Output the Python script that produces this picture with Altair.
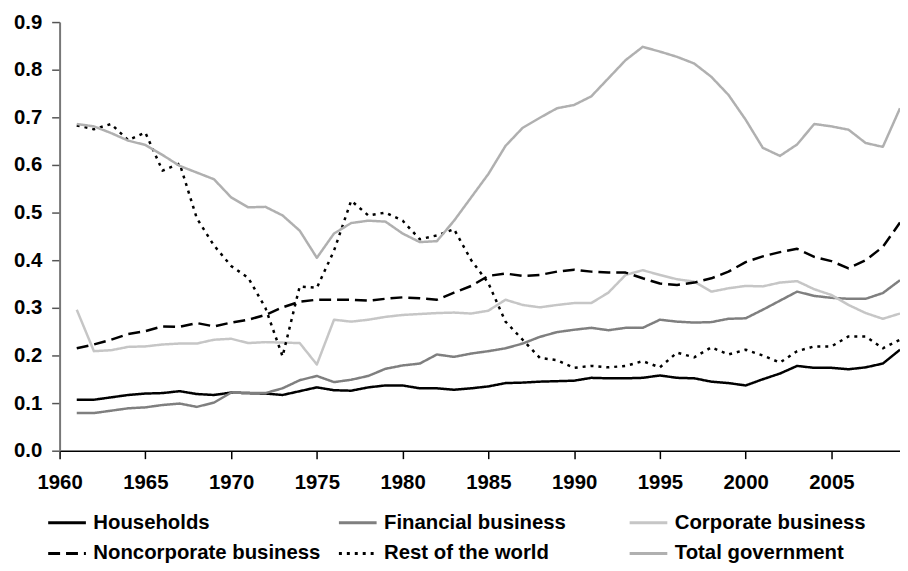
import altair as alt
import pandas as pd

years = list(range(1961, 2010))

households = [0.107, 0.107, 0.112, 0.117, 0.120, 0.121, 0.125, 0.119, 0.117, 0.122,
              0.121, 0.120, 0.117, 0.125, 0.133, 0.127, 0.126, 0.133, 0.137, 0.137,
              0.131, 0.131, 0.128, 0.131, 0.135, 0.142, 0.143, 0.145, 0.146, 0.147,
              0.153, 0.152, 0.152, 0.153, 0.158, 0.153, 0.152, 0.145, 0.142, 0.137,
              0.150, 0.162, 0.178, 0.174, 0.174, 0.171, 0.175, 0.183, 0.212]

financial = [0.079, 0.079, 0.084, 0.089, 0.091, 0.096, 0.099, 0.092, 0.101, 0.122,
             0.121, 0.121, 0.131, 0.148, 0.157, 0.144, 0.149, 0.157, 0.172, 0.179,
             0.183, 0.202, 0.197, 0.204, 0.209, 0.215, 0.225, 0.239, 0.249, 0.254,
             0.258, 0.253, 0.258, 0.258, 0.275, 0.271, 0.269, 0.270, 0.277, 0.278,
             0.296, 0.315, 0.334, 0.325, 0.321, 0.319, 0.319, 0.331, 0.358]

corporate = [0.296, 0.209, 0.211, 0.218, 0.219, 0.223, 0.225, 0.225, 0.233, 0.235,
             0.226, 0.228, 0.227, 0.226, 0.181, 0.275, 0.271, 0.275, 0.281, 0.285,
             0.287, 0.289, 0.290, 0.288, 0.294, 0.317, 0.306, 0.301, 0.306, 0.310,
             0.310, 0.332, 0.369, 0.379, 0.369, 0.360, 0.355, 0.334, 0.341, 0.346,
             0.345, 0.353, 0.356, 0.339, 0.327, 0.306, 0.289, 0.277, 0.288]

noncorporate = [0.215, 0.223, 0.233, 0.245, 0.251, 0.261, 0.260, 0.268, 0.261, 0.269,
                0.275, 0.285, 0.301, 0.313, 0.317, 0.317, 0.317, 0.315, 0.319, 0.322,
                0.320, 0.317, 0.332, 0.346, 0.367, 0.372, 0.367, 0.369, 0.376, 0.380,
                0.376, 0.374, 0.374, 0.362, 0.351, 0.348, 0.353, 0.362, 0.376, 0.396,
                0.408, 0.417, 0.424, 0.407, 0.398, 0.383, 0.400, 0.428, 0.479]

rest_of_world = [0.683, 0.675, 0.686, 0.652, 0.668, 0.588, 0.603, 0.488, 0.431, 0.388,
                 0.363, 0.300, 0.198, 0.345, 0.342, 0.420, 0.525, 0.494, 0.500, 0.483,
                 0.444, 0.452, 0.465, 0.400, 0.352, 0.271, 0.233, 0.195, 0.190, 0.174,
                 0.178, 0.175, 0.178, 0.188, 0.175, 0.206, 0.196, 0.217, 0.202, 0.212,
                 0.200, 0.185, 0.209, 0.219, 0.219, 0.240, 0.240, 0.215, 0.233]

government = [0.686, 0.681, 0.667, 0.651, 0.642, 0.621, 0.598, 0.584, 0.570, 0.532,
              0.511, 0.512, 0.494, 0.462, 0.405, 0.456, 0.478, 0.483, 0.481, 0.456,
              0.438, 0.440, 0.483, 0.532, 0.581, 0.640, 0.678, 0.699, 0.719, 0.726,
              0.744, 0.782, 0.820, 0.848, 0.838, 0.827, 0.813, 0.785, 0.747, 0.695,
              0.636, 0.619, 0.643, 0.686, 0.681, 0.674, 0.646, 0.638, 0.719]

series_names = ["Households", "Financial business", "Corporate business",
                "Noncorporate business", "Rest of the world", "Total government"]
series_values = [households, financial, corporate, noncorporate, rest_of_world, government]
colors = ["#000000", "#7f7f7f", "#c6c6c6", "#000000", "#000000", "#b0b0b0"]
dashes = [[1, 0], [1, 0], [1, 0], [12, 6], [3, 5], [1, 0]]

x_ticks = list(range(1960, 2010, 5))
y_ticks = [0.0, 0.1, 0.2, 0.3, 0.4, 0.5, 0.6, 0.7, 0.8, 0.9]

rows = []
for name, vals in zip(series_names, series_values):
    for yr, v in zip(years, vals):
        rows.append({"year": yr, "value": v, "series": name})
df = pd.DataFrame(rows)

FONT = "Liberation Sans"
FS = 20.5

legend = alt.Legend(
    title=None, orient="none", legendX=-13, legendY=484, columns=3,
    direction="horizontal",
    symbolType="stroke", symbolSize=1444, symbolStrokeWidth=3,
    labelFont=FONT, labelFontSize=FS, labelFontWeight="bold", labelColor="#000000",
    labelOffset=6, columnPadding=12, rowPadding=-8, gridAlign="all", labelLimit=400,
)

chart = alt.Chart(df).mark_line(strokeWidth=2.5, strokeJoin="round").encode(
    x=alt.X("year:Q",
            scale=alt.Scale(domain=[1960, 2009], nice=False, zero=False),
            axis=alt.Axis(values=x_ticks, format="d", title=None, grid=False,
                          tickSize=8, tickColor="#000000", domainColor="#000000",
                          domainWidth=1.5, tickWidth=1.5,
                          labelFont=FONT, labelFontSize=FS, labelFontWeight="bold",
                          labelColor="#000000", labelPadding=14, labelFlush=False)),
    y=alt.Y("value:Q",
            scale=alt.Scale(domain=[0, 0.9], nice=False),
            axis=alt.Axis(values=y_ticks, format=".1f", title=None, grid=False,
                          tickSize=8, tickColor="#555555", domainColor="#777777",
                          domainWidth=2, tickWidth=1.5,
                          labelFont=FONT, labelFontSize=FS, labelFontWeight="bold",
                          labelColor="#000000", labelPadding=10)),
    color=alt.Color("series:N", scale=alt.Scale(domain=series_names, range=colors), legend=legend),
    strokeDash=alt.StrokeDash("series:N", scale=alt.Scale(domain=series_names, range=dashes), legend=legend),
).properties(
    width=847, height=432,
    autosize=alt.AutoSizeParams(type="none"),
    padding={"left": 52, "top": 12, "right": 0, "bottom": 111},
).configure_view(stroke=None)

chart.save("out.html", embed_options={"renderer": "svg", "actions": False})
